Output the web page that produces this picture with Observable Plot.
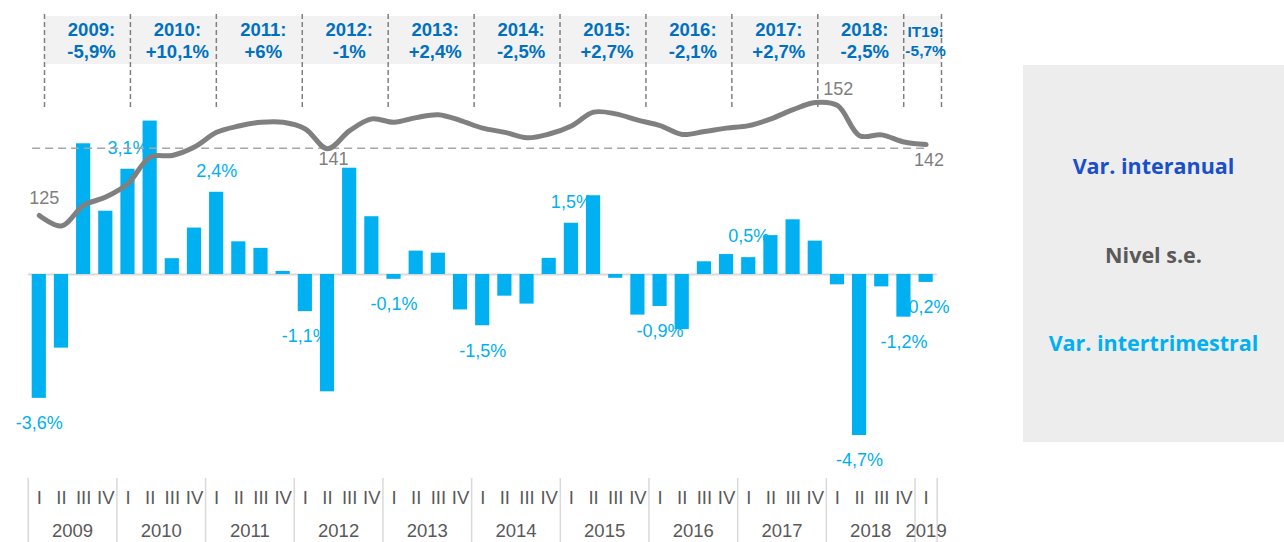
<!DOCTYPE html>
<html>
<head>
<meta charset="utf-8">
<script src="https://cdn.jsdelivr.net/npm/d3@7"></script>
<script src="https://cdn.jsdelivr.net/npm/@observablehq/plot@0.6"></script>
<style>
  body { margin: 0; background: #ffffff; }
  #wrap { position: relative; width: 1284px; height: 542px; overflow: hidden; }
  #wrap svg { position: absolute; left: 0; top: 0; }
  #legend { position: absolute; left: 1023px; top: 65px; width: 261px; height: 377px; background: #ededed;
            font-family: "Open Sans", "Noto Sans", sans-serif; font-weight: 700; font-size: 21.5px; }
  #legend div { position: absolute; left: 0; right: 0; text-align: center; line-height: 1; transform: translateY(-50%); white-space: nowrap; }
</style>
</head>
<body>
<div id="wrap"><div id="legend"></div></div>
<script>
// ---------- data ----------
const years = [2009, 2010, 2011, 2012, 2013, 2014, 2015, 2016, 2017, 2018, 2019];
const yearTitles = ["2009:", "2010:", "2011:", "2012:", "2013:", "2014:", "2015:", "2016:", "2017:", "2018:", "IT19:"];
const yearChanges = ["-5,9%", "+10,1%", "+6%", "-1%", "+2,4%", "-2,5%", "+2,7%", "-2,1%", "+2,7%", "-2,5%", "-5,7%"];
const quarterNames = ["I", "II", "III", "IV"];
// quarter-on-quarter change (%), 2009 I .. 2019 I
const qoqChange = [
  -3.60, -2.14, 3.80, 1.84,
   3.06,  4.46, 0.46, 1.35,
   2.39,  0.95, 0.76, 0.09,
  -1.08, -3.41, 3.09, 1.68,
  -0.14,  0.68, 0.62, -1.03,
  -1.49, -0.63, -0.86, 0.47,
   1.49,  2.29, -0.11, -1.18,
  -0.93, -1.60, 0.37, 0.58,
   0.49,  1.13, 1.59, 0.97,
  -0.30, -4.68, -0.36, -1.24,
  -0.23
];
// seasonally adjusted level (Nivel s.e.)
const levelSE = [
  125.0, 122.5, 127.4, 129.4,
  132.6, 138.9, 139.3, 141.3,
  144.8, 146.3, 147.2, 147.2,
  145.6, 140.9, 145.2, 148.0,
  147.2, 148.3, 149.0, 147.6,
  145.8, 144.8, 143.5, 144.4,
  146.3, 149.6, 149.2, 147.7,
  146.4, 144.3, 145.0, 145.8,
  146.4, 148.0, 150.2, 151.9,
  151.2, 144.0, 144.2, 142.5,
  141.9
];
const refLevel = 141;
const qoqLabelIdx = [0, 4, 8, 12, 16, 20, 24, 28, 32, 37, 39, 40];
const levelLabelIdx = [0, 13, 35, 40];
const legendItems = ["Var. interanual", "Nivel s.e.", "Var. intertrimestral"];

// ---------- derived tables ----------
const quarters = qoqChange.map((v, i) => ({
  i, v, level: levelSE[i],
  year: years[0] + Math.floor(i / 4),
  q: quarterNames[i % 4]
}));
const yearGroups = d3.groups(quarters, d => d.year).map(([year, qs]) => ({
  year, center: d3.mean(qs, d => d.i), first: d3.min(qs, d => d.i), last: d3.max(qs, d => d.i)
}));
const yearBounds = [...yearGroups.map(g => g.first - 0.5), yearGroups[yearGroups.length - 1].last + 0.5];
const labelled = qoqLabelIdx.map(i => quarters[i]);
const fmt = v => v.toFixed(1).replace(".", ",") + "%";

// ---------- layout ----------
const W = 1284, H = 542;
const FONT = "Liberation Sans, Arial, sans-serif";
const xDomain = [-0.5, quarters.length - 0.5];
const frame = { width: W, height: H, marginLeft: 27.7, marginRight: 347.3, marginTop: 0, marginBottom: 0 };
const style = { fontFamily: FONT, background: "transparent", overflow: "visible" };

// bars + bottom axis
const barsPlot = Plot.plot({
  ...frame, style,
  x: { domain: xDomain, axis: null },
  y: { domain: [-7.79, 7.965], axis: null },
  marks: [
    Plot.ruleX(yearBounds, { x: d => d, stroke: "#d9d9d9", strokeWidth: 1.5, insetTop: 478 }),
    Plot.ruleY([0], { stroke: "#d9d9d9", strokeWidth: 2 }),
    Plot.text(labelled.filter(d => d.v >= 0), { x: "i", y: "v", text: d => fmt(d.v), dy: -21, fill: "#00b0f0", fontSize: 18 }),
    Plot.text(labelled.filter(d => d.v < 0), { x: "i", y: "v", text: d => fmt(d.v), dy: 25, fill: "#00b0f0", fontSize: 18 }),
    Plot.rectY(quarters, { x1: d => d.i - 0.5, x2: d => d.i + 0.5, y: "v", fill: "#00b0f0", insetLeft: 4, insetRight: 4 }),
    Plot.text(quarters, { x: "i", text: "q", frameAnchor: "bottom", lineAnchor: "middle", dy: -44, fill: "#595959", fontSize: 18.5 }),
    Plot.text(yearGroups, { x: "center", text: d => String(d.year), frameAnchor: "bottom", lineAnchor: "middle", dy: -11, fill: "#595959", fontSize: 18.5 })
  ]
});

// level line (own scale)
const levelOffsets = [[5, -17], [6, 11], [23, -13], [3, 16]];
const linePlot = Plot.plot({
  ...frame, style,
  x: { domain: xDomain, axis: null },
  y: { domain: [47.14, 176.19], axis: null },
  marks: [
    Plot.ruleY([refLevel], { x1: quarters[0].i - 0.3, x2: quarters[quarters.length - 1].i, stroke: "#a6a6a6", strokeWidth: 1.5, strokeDasharray: "8,5" }),
    Plot.line(quarters, { x: "i", y: "level", stroke: "#808080", strokeWidth: 5, curve: "catmull-rom", strokeLinecap: "round" }),
    ...levelLabelIdx.map((idx, k) => Plot.text([quarters[idx]], {
      x: "i", y: "level", text: d => String(Math.round(d.level)),
      dx: levelOffsets[k][0], dy: levelOffsets[k][1], fill: "#7f7f7f", fontSize: 18
    }))
  ]
});

// annual header table
const headerEnd = 2019.44;
const header = years.map((y, k) => ({
  start: y, end: Math.min(y + 1, headerEnd), title: yearTitles[k], change: yearChanges[k], small: k === years.length - 1
}));
const mid = d => (d.start + d.end) / 2;
const headerPlot = Plot.plot({
  width: W, height: 110, marginLeft: 44, marginRight: W - 941, marginTop: 0, marginBottom: 0, style,
  x: { domain: [years[0], headerEnd], axis: null },
  marks: [
    Plot.rect(header, { x1: "start", x2: "end", fill: "#f2f2f2", insetTop: 16, insetBottom: 46 }),
    Plot.ruleX([...years, headerEnd], { x: d => d, stroke: "#7f7f7f", strokeWidth: 1.5, strokeDasharray: "5,3", insetTop: 14, insetBottom: 3 }),
    Plot.text(header.filter(d => !d.small), { x: mid, text: "title", frameAnchor: "top", lineAnchor: "middle", dy: 30, dx: 4, fontWeight: "bold", fontSize: 18.5, fill: "#0070c0" }),
    Plot.text(header.filter(d => !d.small), { x: mid, text: "change", frameAnchor: "top", lineAnchor: "middle", dy: 52, dx: 4, fontWeight: "bold", fontSize: 18.5, fill: "#0070c0" }),
    Plot.text(header.filter(d => d.small), { x: mid, text: "title", frameAnchor: "top", lineAnchor: "middle", dy: 32, dx: 3, fontWeight: "bold", fontSize: 15.5, fill: "#0070c0" }),
    Plot.text(header.filter(d => d.small), { x: mid, text: "change", frameAnchor: "top", lineAnchor: "middle", dy: 51, dx: 3, fontWeight: "bold", fontSize: 15.5, fill: "#0070c0" })
  ]
});

const wrap = document.getElementById("wrap");
wrap.insertBefore(barsPlot, wrap.firstChild);
wrap.insertBefore(linePlot, document.getElementById("legend"));
wrap.insertBefore(headerPlot, document.getElementById("legend"));

// legend panel
const legendColors = ["#1a4fcc", "#595959", "#00b0f0"];
const legendTops = [101, 190, 278];
const legend = d3.select("#legend");
legend.selectAll("div").data(legendItems).join("div")
  .style("top", (d, k) => legendTops[k] + "px")
  .style("color", (d, k) => legendColors[k])
  .text(d => d);
</script>
</body>
</html>
